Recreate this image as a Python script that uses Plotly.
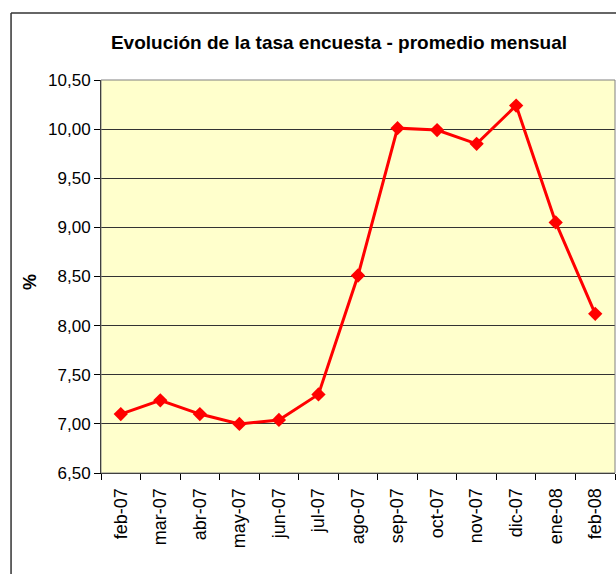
import plotly.graph_objects as go

months = ["feb-07", "mar-07", "abr-07", "may-07", "jun-07", "jul-07", "ago-07",
          "sep-07", "oct-07", "nov-07", "dic-07", "ene-08", "feb-08"]
tasa = [7.10, 7.24, 7.10, 7.00, 7.04, 7.30, 8.51, 10.01, 9.99, 9.85, 10.24, 9.05, 8.12]
y_ticks = [6.5, 7.0, 7.5, 8.0, 8.5, 9.0, 9.5, 10.0, 10.5]

fig = go.Figure()
fig.add_trace(go.Scatter(
    x=months, y=tasa, mode="lines+markers",
    line=dict(color="#FF0000", width=3),
    marker=dict(symbol="diamond", size=11, color="#FF0000"),
    showlegend=False,
))

fig.update_layout(
    width=616, height=574,
    margin=dict(l=101, r=1, t=80, b=101),
    paper_bgcolor="white",
    plot_bgcolor="#FFFFCC",
    separators=",.",
    font=dict(family="Liberation Sans, Arial, sans-serif", size=17, color="black"),
    title=dict(text="<b>Evolución de la tasa encuesta - promedio mensual</b>",
               x=0.463, xref="paper", xanchor="center",
               y=0.927, yref="container", yanchor="middle",
               font=dict(size=19)),
    xaxis=dict(
        type="category", range=[-0.5, len(months) - 0.5],
        tickangle=-90, tickson="boundaries",
        ticks="outside", ticklen=6, tickcolor="black",
        ticklabelstandoff=7,
        showline=True, linecolor="black", linewidth=1, mirror=False,
        showgrid=False, tickfont=dict(size=18),
    ),
    yaxis=dict(
        range=[6.5, 10.5], tickvals=y_ticks, tickformat=".2f",
        ticks="outside", ticklen=6, tickcolor="black",
        showline=True, linecolor="black", linewidth=1,
        showgrid=True, gridcolor="#333333", gridwidth=1,
        tickfont=dict(size=17),
    ),
    annotations=[
        dict(text="<b>%</b>", xref="paper", yref="paper", x=-0.138, y=0.486,
             xanchor="center", yanchor="middle", textangle=-90, showarrow=False,
             font=dict(size=18)),
    ],
    shapes=[
        dict(type="rect", xref="paper", yref="paper", x0=0, x1=1, y0=0, y1=1,
             line=dict(color="#808080", width=1), fillcolor="rgba(0,0,0,0)"),
        dict(type="line", xref="paper", yref="paper", x0=-0.175, x1=1.1,
             y0=1.1705, y1=1.1705, line=dict(color="#333333", width=1.5)),
        dict(type="line", xref="paper", yref="paper", x0=-0.175, x1=-0.175,
             y0=1.1705, y1=-0.4, line=dict(color="#333333", width=1.5)),
    ],
)

fig.write_html(
    "out.html",
    config={"displayModeBar": False},
    post_script="document.body.style.margin='0';document.body.style.overflow='hidden';",
)
